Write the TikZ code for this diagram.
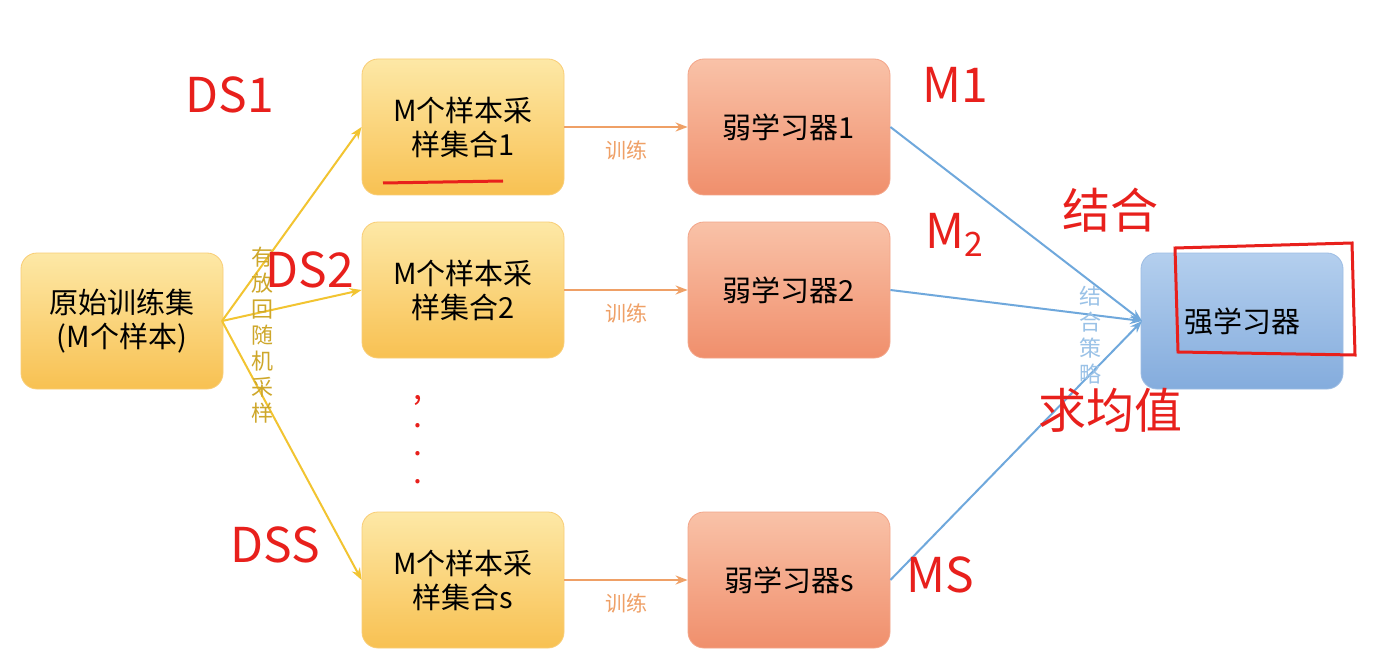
\documentclass[tikz,border=0pt]{standalone}
\usepackage{fontspec}
\setmainfont{Noto Sans CJK SC}
\usetikzlibrary{arrows.meta}
\definecolor{ytop}{HTML}{FDE8A6}\definecolor{ybot}{HTML}{F8C152}
\definecolor{otop}{HTML}{F9C2A8}\definecolor{obot}{HTML}{F08F6C}
\definecolor{btop}{HTML}{B4CFEE}\definecolor{bbot}{HTML}{84ACDD}
\definecolor{yarr}{HTML}{F2C431}\definecolor{oarr}{HTML}{EFA066}
\definecolor{barr}{HTML}{6FA8DC}\definecolor{hand}{HTML}{E8201C}
\tikzset{
 box/.style={rounded corners=8pt,minimum width=101pt,minimum height=68pt,align=center,font=\fontsize{14.5}{17}\selectfont,inner sep=2pt},
 ybox/.style={box,top color=ytop,bottom color=ybot,draw=ybot!80!white},
 obox/.style={box,top color=otop,bottom color=obot,draw=obot!80!white},
 bbox/.style={box,top color=btop,bottom color=bbot,draw=bbot!80!white},
 yline/.style={draw=yarr,line width=1pt,-{Stealth[length=6pt]}},
 oline/.style={draw=oarr,line width=1pt,-{Stealth[length=6pt]}},
 bline/.style={draw=barr,line width=1pt,-{Stealth[length=6pt]}},
 lbl/.style={font=\fontsize{10.5}{12}\selectfont,text=oarr},
 red/.style={text=hand,font=\fontsize{24}{26}\selectfont\itshape},
}
\begin{document}
\begin{tikzpicture}[x=0.5pt,y=-0.5pt]
\useasboundingbox[fill=white] (0,0) rectangle (1400,668);
\node[ybox] (src) at (122,321) {原始训练集\\(M个样本)};
\node[ybox] (s1) at (463,127) {M个样本采\\样集合1};
\node[ybox] (s2) at (463,290) {M个样本采\\样集合2};
\node[ybox] (ss) at (463,580) {M个样本采\\样集合s};
\node[obox] (w1) at (789,127) {弱学习器1};
\node[obox] (w2) at (789,290) {弱学习器2};
\node[obox] (ws) at (789,580) {弱学习器s};
\node[bbox] (st) at (1242,321) {强学习器};
\coordinate (sr) at (222,321);
\coordinate (stl) at (1142,321);
\draw[yline] (sr) -- (s1.west);
\draw[yline] (sr) -- (s2.west);
\draw[yline] (sr) -- (ss.west);
\foreach \a/\b in {s1/w1,s2/w2,ss/ws}{
 \draw[oline] (\a.east) -- node[lbl,below=3pt]{训练} (\b.east-|\b.west);
 \draw[bline] (\b.east) -- (stl);
}
\node[text=yarr!85!black,font=\fontsize{11}{13}\selectfont,align=center] (v1) at (262,335) {有\\放\\回\\随\\机\\采\\样};
\node[text=barr!70!white,font=\fontsize{11}{13}\selectfont,align=center] (v2) at (1090,335) {结\\合\\策\\略};
\node[text=hand,font=\fontsize{16}{14}\selectfont,align=center] (dots) at (418,440) {,\\.\\.\\.};
\node[red] (d1) at (230,95) {DS1};
\node[red] (d2) at (310,270) {DS2};
\node[red] (d3) at (275,545) {DSS};
\node[red] (m1) at (955,85) {M1};
\node[red] (m2) at (955,235) {M\textsubscript{2}};
\node[red] (m3) at (940,575) {MS};
\node[red] (jh) at (1110,210) {结合};
\node[red] (qj) at (1110,410) {求均值};
\draw[hand,line width=1.5pt] (1175,248) -- (1352,243) -- (1355,355) -- (1178,352) -- cycle;
\draw[hand,line width=1.5pt] (383,183) -- (503,181);
\end{tikzpicture}
\end{document}
